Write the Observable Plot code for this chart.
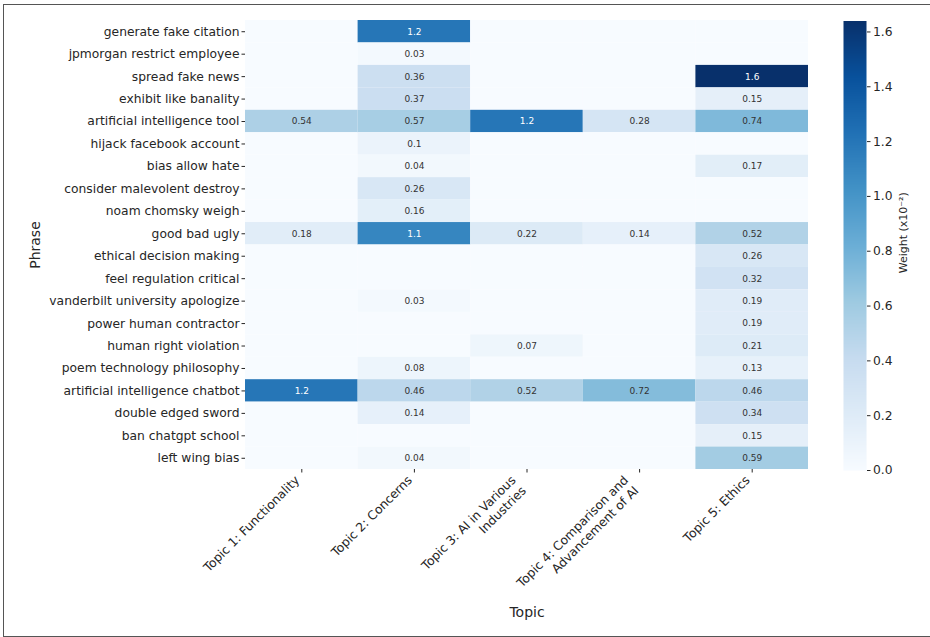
<!DOCTYPE html>
<html><head><meta charset="utf-8">
<script src="https://cdn.jsdelivr.net/npm/d3@7"></script>
<script src="https://cdn.jsdelivr.net/npm/@observablehq/plot@0.6"></script>
<style>
body{margin:0;background:#fff;overflow:hidden}
#wrap{position:relative;width:930px;height:637px;overflow:hidden;font-family:"DejaVu Sans",sans-serif}
#frame{position:absolute;left:3px;top:4px;width:1000px;height:633px;border:1.5px solid #555;box-sizing:border-box}
#wrap svg{position:absolute;left:0;top:0}
</style></head><body><div id="wrap"><div id="frame"></div></div>
<script>
const phrases = [
  "generate fake citation","jpmorgan restrict employee","spread fake news","exhibit like banality",
  "artificial intelligence tool","hijack facebook account","bias allow hate","consider malevolent destroy",
  "noam chomsky weigh","good bad ugly","ethical decision making","feel regulation critical",
  "vanderbilt university apologize","power human contractor","human right violation","poem technology philosophy",
  "artificial intelligence chatbot","double edged sword","ban chatgpt school","left wing bias"
];
const topics = [
  "Topic 1: Functionality","Topic 2: Concerns","Topic 3: AI in Various\nIndustries",
  "Topic 4: Comparison and\nAdvancement of AI","Topic 5: Ethics"
];
// weights (x10^-2), one array per topic, in phrase order
const functionality = [0,0,0,0,0.54,0,0,0,0,0.18,0,0,0,0,0,0,1.2,0,0,0];
const concerns      = [1.2,0.03,0.36,0.37,0.57,0.1,0.04,0.26,0.16,1.1,0,0,0.03,0,0,0.08,0.46,0.14,0,0.04];
const industries    = [0,0,0,0,1.2,0,0,0,0,0.22,0,0,0,0,0.07,0,0.52,0,0,0];
const comparison    = [0,0,0,0,0.28,0,0,0,0,0.14,0,0,0,0,0,0,0.72,0,0,0];
const ethics        = [0,0,1.64,0.15,0.74,0,0.17,0,0,0.52,0.26,0.32,0.19,0.19,0.21,0.13,0.46,0.34,0.15,0.59];
const cbarTicks = [0,0.2,0.4,0.6,0.8,1.0,1.2,1.4,1.6];

const series = [functionality, concerns, industries, comparison, ethics];
const cells = [];
series.forEach((arr, j) => arr.forEach((v, i) => cells.push({topic: topics[j], phrase: phrases[i], value: v})));

const vmax = d3.max(cells, d => d.value);
const blues = ["#f7fbff","#deebf7","#c6dbef","#9ecae1","#6baed6","#4292c6","#2171b5","#08519c","#08306b"];
const colorScale = {type: "linear", domain: blues.map((_, i) => i / (blues.length - 1) * vmax), range: blues, interpolate: "rgb"};
const cs = Plot.scale({color: colorScale});
function lum(c) {
  const r = d3.rgb(c);
  const f = x => { x /= 255; return x <= 0.03928 ? x / 12.92 : Math.pow((x + 0.055) / 1.055, 2.4); };
  return 0.2126 * f(r.r) + 0.7152 * f(r.g) + 0.0722 * f(r.b);
}
const fmt = d3.format(".2~g");
const labeled = cells.filter(d => d.value > 0);
const onLight = labeled.filter(d => lum(cs.apply(d.value)) > 0.408);
const onDark = labeled.filter(d => lum(cs.apply(d.value)) <= 0.408);

const ink = "#262626";
const tickFont = 12.3;
const main = Plot.plot({
  width: 930, height: 637,
  marginLeft: 245, marginRight: 122, marginTop: 20, marginBottom: 168,
  style: {fontFamily: "DejaVu Sans", fontSize: tickFont + "px", color: ink, background: "transparent"},
  x: {domain: topics, padding: 0, round: false, axis: null},
  y: {domain: phrases, padding: 0, round: false, axis: null},
  color: colorScale,
  marks: [
    Plot.cell(cells, {x: "topic", y: "phrase", fill: "value", inset: 0}),
    Plot.text(onLight, {x: "topic", y: "phrase", text: d => fmt(d.value), fill: "#333", fontSize: 9}),
    Plot.text(onDark, {x: "topic", y: "phrase", text: d => fmt(d.value), fill: "white", fontSize: 9}),
    Plot.axisY({tickSize: 3.5, tickPadding: 2.5, fontSize: tickFont, label: null}),
    Plot.axisX({tickSize: 3.5, tickFormat: () => "", label: null}),
    Plot.text(topics, {filter: d => !d.includes("\n"), x: d => d, frameAnchor: "bottom", dy: 4, dx: -9,
      rotate: -45, textAnchor: "end", lineAnchor: "top", fontSize: tickFont, lineHeight: 1.2}),
    Plot.text(topics, {filter: d => d.includes("\n"), x: d => d, frameAnchor: "bottom", dy: 4, dx: -18,
      rotate: -45, textAnchor: "end", lineAnchor: "top", fontSize: tickFont, lineHeight: 1.2}),
    Plot.text(["Phrase"], {frameAnchor: "left", dx: -210, rotate: -90, textAnchor: "middle", lineAnchor: "middle", fontSize: 14}),
    Plot.text(["Topic"], {frameAnchor: "bottom", dy: 143, textAnchor: "middle", lineAnchor: "middle", fontSize: 14})
  ]
});

const cbar = Plot.plot({
  width: 930, height: 637,
  marginLeft: 843, marginRight: 64, marginTop: 20.5, marginBottom: 167,
  style: {fontFamily: "DejaVu Sans", fontSize: tickFont + "px", color: ink, background: "transparent"},
  x: {domain: [0, 1], axis: null},
  y: {domain: [0, vmax], axis: null},
  color: colorScale,
  marks: [
    Plot.raster({x1: 0, x2: 1, y1: 0, y2: vmax, fill: (x, y) => y, imageRendering: "auto"}),
    Plot.axisY({anchor: "right", ticks: cbarTicks, tickFormat: ".1f", tickSize: 3.5, tickPadding: 3, fontSize: tickFont, label: null}),
    Plot.text(["Weight (x10⁻²)"], {frameAnchor: "right", dx: 37, dy: -13, rotate: -90, textAnchor: "middle", lineAnchor: "middle", fontSize: 11})
  ]
});

document.getElementById("wrap").append(main, cbar);
</script>
</body></html>
